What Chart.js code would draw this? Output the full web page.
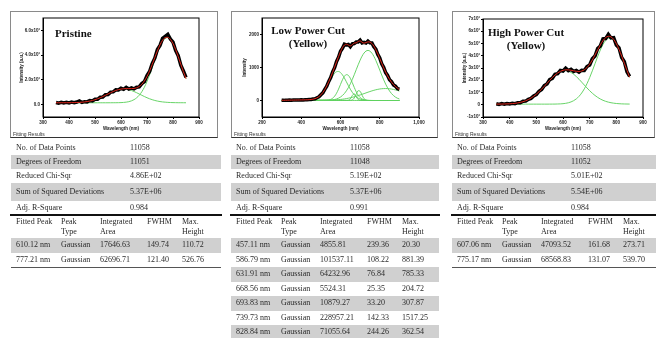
<!DOCTYPE html>
<html>
<head>
<meta charset="utf-8">
<title>PL peak fitting</title>
<script src="https://cdn.jsdelivr.net/npm/chart.js@4.4.1/dist/chart.umd.min.js"></script>
<style>
    body { margin: 0; width: 656px; height: 338px; background: #fff; position: relative; overflow: hidden; }
    .box { position: absolute; }
    .box canvas { position: absolute; left: 0; top: 0; }
    .frame { position: absolute; left: 0; top: 0; right: 0; bottom: 0; border: 1px solid #8a8a8a; border-bottom: 1.5px solid #333; box-sizing: border-box; pointer-events: none; }
    .fit-label { position: absolute; left: 3px; top: 120px; font: 5px 'Liberation Sans', Arial, sans-serif; color: #333; }
    .plot-title { position: absolute; font: bold 11px 'Liberation Serif', 'Times New Roman', serif; color: #111; text-align: center; line-height: 13px; white-space: nowrap; }
    .tbl { position: absolute; font-family: 'Liberation Serif', 'Times New Roman', serif; font-size: 8px; color: #2a2a2a; }
    .row { position: absolute; left: 0; right: 0; }
    .row.gray { background: #d0d0d0; }
    .cell { position: absolute; white-space: pre; }
    .rule { position: absolute; height: 2px; background: #111; }
    .thin { position: absolute; height: 1px; background: #555; }
</style>
</head>
<body>

<div class="box" id="box1" style="left:10px; top:11px; width:208px; height:127px;">
    <canvas id="pristineChart" width="208" height="127"></canvas>
    <div class="plot-title" style="left:45px; top:16px;">Pristine</div>
    <div class="fit-label">Fitting Results</div>
    <div class="frame"></div>
</div>
<div class="box" id="box2" style="left:231px; top:11px; width:207px; height:127px;">
    <canvas id="lowChart" width="207" height="127"></canvas>
    <div class="plot-title" style="left:37px; top:13px; width:80px;">Low Power Cut<br>(Yellow)</div>
    <div class="fit-label">Fitting Results</div>
    <div class="frame"></div>
</div>
<div class="box" id="box3" style="left:452px; top:11px; width:203px; height:127px;">
    <canvas id="highChart" width="203" height="127"></canvas>
    <div class="plot-title" style="left:34px; top:15px; width:80px;">High Power Cut<br>(Yellow)</div>
    <div class="fit-label">Fitting Results</div>
    <div class="frame"></div>
</div>

<div id="tables"></div>

<script>
// ---------- spectrum data ----------

// Pristine: 350-850 nm
const pristineWl = [350, 360, 370, 380, 390, 400, 410, 420, 430, 440, 450, 460, 470, 480, 490, 500, 510, 520, 530, 540,
    550, 560, 570, 580, 590, 600, 610, 620, 630, 640, 650, 660, 670, 680, 690, 700, 710, 720, 730, 740,
    750, 760, 770, 780, 790, 800, 810, 820, 830, 840, 850];
const pristineData = [17, 12, 19, 14, 18, 13, 20, 15, 21, 30, 18, 24, 22, 33, 30, 44, 43, 60, 61, 80,
    82, 101, 103, 119, 118, 132, 124, 140, 126, 135, 127, 140, 143, 170, 186, 234, 268, 332, 375, 445,
    478, 535, 552, 568, 530, 505, 438, 395, 318, 272, 220];
const pristineFit = [15.0, 15.1, 15.1, 15.2, 15.3, 15.5, 15.8, 16.3, 17.0, 18.1, 19.6, 21.8, 24.8, 28.7, 33.6, 39.7, 47.1, 55.6, 65.1, 75.3,
    85.8, 96.3, 106.0, 114.4, 121.0, 125.7, 128.4, 129.4, 129.3, 129.4, 131.0, 136.2, 146.6, 164.5, 191.3, 227.4, 272.5, 324.5, 380.1, 434.7,
    483.1, 520.1, 541.3, 544.1, 527.7, 494.0, 446.1, 388.5, 326.9, 265.9, 209.5];
const pristinePeak1 = [15.0, 15.1, 15.1, 15.2, 15.3, 15.5, 15.8, 16.3, 17.0, 18.1, 19.6, 21.8, 24.8, 28.7, 33.6, 39.7, 47.1, 55.6, 65.1, 75.3,
    85.8, 96.2, 105.8, 114.0, 120.3, 124.3, 125.7, 124.4, 120.4, 114.1, 105.9, 96.4, 86.0, 75.5, 65.3, 55.7, 47.2, 39.9, 33.7, 28.7,
    24.8, 21.9, 19.7, 18.1, 17.0, 16.3, 15.8, 15.5, 15.3, 15.2, 15.1];
const pristinePeak2 = [15.0, 15.0, 15.0, 15.0, 15.0, 15.0, 15.0, 15.0, 15.0, 15.0, 15.0, 15.0, 15.0, 15.0, 15.0, 15.0, 15.0, 15.0, 15.0, 15.0,
    15.0, 15.1, 15.2, 15.4, 15.7, 16.4, 17.7, 20.0, 23.9, 30.3, 40.1, 54.8, 75.6, 104.0, 141.0, 186.7, 240.3, 299.6, 361.4, 421.0,
    473.3, 513.2, 536.6, 541.0, 525.7, 492.7, 445.3, 388.2, 326.7, 265.8, 209.4];

// Low power cut: 300-900 nm
const lowWl = [300, 310, 320, 330, 340, 350, 360, 370, 380, 390, 400, 410, 420, 430, 440, 450, 460, 470, 480, 490,
    500, 510, 520, 530, 540, 550, 560, 570, 580, 590, 600, 610, 620, 630, 640, 650, 660, 670, 680, 690,
    700, 710, 720, 730, 740, 750, 760, 770, 780, 790, 800, 810, 820, 830, 840, 850, 860, 870, 880, 890, 900];
const lowData = [8, 4, 10, 7, 12, 9, 14, 12, 17, 14, 19, 16, 23, 20, 28, 29, 44, 53, 85, 112,
    176, 233, 340, 432, 580, 695, 870, 995, 1185, 1310, 1495, 1580, 1705, 1685, 1700, 1630, 1715, 1725, 1770, 1770,
    1830, 1745, 1760, 1740, 1800, 1750, 1745, 1630, 1555, 1395, 1290, 1110, 1005, 845, 760, 630, 570, 470, 435, 360, 340];
const lowFit = [6.2, 7.1, 8.2, 9.3, 10.5, 11.7, 12.9, 14.1, 15.2, 16.3, 17.6, 18.8, 20.4, 22.4, 25.7, 31.3, 40.6, 55.9, 80.3, 117.2,
    169.9, 240.9, 331.8, 441.8, 568.3, 707.5, 856.0, 1011.0, 1170.0, 1328.6, 1477.1, 1600.3, 1681.0, 1705.7, 1681.4, 1654.5, 1692.0, 1740.3, 1747.6, 1788.5,
    1806.1, 1762.5, 1737.3, 1755.7, 1776.8, 1770.2, 1726.6, 1647.6, 1539.9, 1411.6, 1271.8, 1128.6, 989.3, 859.9, 743.7, 642.3, 556.1, 483.8, 423.7, 373.7, 331.6];
const lowPeak1 = [6.2, 7.1, 8.2, 9.3, 10.5, 11.7, 12.9, 14.1, 15.2, 16.3, 17.3, 18.2, 19.0, 19.6, 20.0, 20.3, 20.3, 20.1, 19.8, 19.3,
    18.6, 17.7, 16.8, 15.7, 14.6, 13.4, 12.2, 11.0, 9.8, 8.6, 7.6, 6.5, 5.6, 4.8, 4.0, 3.4, 2.8, 2.3, 1.8, 1.5,
    1.2, 0.9, 0.7, 0.6, 0.4, 0.3, 0.2, 0.2, 0.1, 0.1, 0.1, 0, 0, 0, 0, 0, 0, 0, 0, 0, 0];
const lowPeak2 = [0, 0, 0, 0, 0, 0, 0, 0, 0, 0, 0.2, 0.5, 1.2, 2.6, 5.4, 10.5, 19.6, 34.9, 59.2, 95.9,
    148.1, 218.2, 306.5, 410.7, 524.8, 639.6, 743.6, 824.5, 871.9, 879.3, 845.8, 776.0, 679.0, 566.6, 451.0, 342.4, 247.9, 171.3, 112.8, 70.9,
    42.5, 24.3, 13.2, 6.9, 3.4, 1.6, 0.7, 0.3, 0, 0, 0, 0, 0, 0, 0, 0, 0, 0, 0, 0, 0];
const lowPeak3 = [0, 0, 0, 0, 0, 0, 0, 0, 0, 0, 0, 0, 0, 0, 0, 0, 0, 0, 0, 0,
    0.2, 0.7, 2.2, 6.0, 14.9, 33.7, 69.3, 129.9, 221.6, 344.4, 486.9, 626.9, 734.8, 784.0, 761.6, 673.4, 542.2, 397.4, 265.1, 161.0,
    89.1, 44.8, 20.5, 8.6, 3.1, 1.1, 0.4, 0, 0, 0, 0, 0, 0, 0, 0, 0, 0, 0, 0, 0, 0];
const lowPeak4 = [0, 0, 0, 0, 0, 0, 0, 0, 0, 0, 0, 0, 0, 0, 0, 0, 0, 0, 0, 0,
    0, 0, 0, 0, 0, 0, 0, 0, 0, 0, 0, 0, 0, 0.3, 6.1, 46.3, 149.3, 202.9, 116.4, 28.2,
    2.9, 0, 0, 0, 0, 0, 0, 0, 0, 0, 0, 0, 0, 0, 0, 0, 0, 0, 0, 0, 0];
const lowPeak5 = [0, 0, 0, 0, 0, 0, 0, 0, 0, 0, 0, 0, 0, 0, 0, 0, 0, 0, 0, 0,
    0, 0, 0, 0, 0, 0, 0, 0, 0, 0, 0, 0, 0, 0, 0.2, 2.4, 17.3, 73.8, 190.3, 296.7,
    279.8, 159.5, 55.0, 11.5, 1.4, 0, 0, 0, 0, 0, 0, 0, 0, 0, 0, 0, 0, 0, 0, 0, 0];
const lowPeak6 = [0, 0, 0, 0, 0, 0, 0, 0, 0, 0, 0, 0, 0, 0, 0, 0, 0, 0, 0, 0.3,
    0.6, 1.1, 2.0, 3.7, 6.5, 11.0, 18.3, 29.5, 46.3, 70.7, 105.0, 151.7, 213.5, 292.2, 389.3, 504.5, 636.0, 780.3, 931.6, 1082.1,
    1222.9, 1344.8, 1438.8, 1497.8, 1517.2, 1495.5, 1434.3, 1338.4, 1215.2, 1073.6, 923.0, 772.0, 628.1, 497.4, 383.3, 287.2, 209.5, 148.7, 102.7, 69.0, 45.1];
const lowPeak7 = [0, 0, 0, 0, 0, 0, 0, 0, 0, 0, 0.1, 0.1, 0.2, 0.2, 0.3, 0.5, 0.7, 0.9, 1.3, 1.7,
    2.4, 3.2, 4.3, 5.7, 7.5, 9.8, 12.6, 16.1, 20.4, 25.6, 31.8, 39.2, 47.8, 57.8, 69.2, 82.1, 96.5, 112.3, 129.6, 148.1,
    167.7, 188.2, 209.1, 230.3, 251.3, 271.7, 290.9, 308.7, 324.6, 338.0, 348.8, 356.6, 361.2, 362.5, 360.4, 355.1, 346.6, 335.1, 321.0, 304.7, 286.5];

// High power cut: 350-850 nm
const highWl = pristineWl;
const highData = [8, 3, 9, 4, 10, 6, 12, 9, 17, 16, 28, 30, 45, 52, 72, 83, 110, 124, 156, 170,
    205, 216, 249, 254, 280, 275, 298, 279, 290, 272, 280, 266, 282, 280, 312, 324, 375, 398, 460, 480,
    538, 540, 575, 545, 548, 488, 465, 385, 352, 268, 232];
const highFit = [5.3, 5.4, 5.7, 6.2, 6.9, 7.9, 9.5, 11.7, 14.9, 19.2, 25.0, 32.6, 42.3, 54.4, 69.0, 86.2, 105.8, 127.5, 150.8, 174.9,
    199.0, 221.7, 242.2, 259.5, 272.5, 281.1, 285.1, 285.0, 281.8, 277.3, 273.1, 271.8, 275.4, 285.8, 304.4, 331.3, 365.9, 406.0, 448.4, 489.0,
    523.5, 547.9, 558.8, 554.2, 533.8, 498.9, 452.2, 397.4, 338.6, 279.8, 224.1];
const highPeak1 = [5.3, 5.4, 5.7, 6.2, 6.9, 7.9, 9.5, 11.7, 14.9, 19.2, 25.0, 32.6, 42.3, 54.4, 69.0, 86.2, 105.8, 127.5, 150.8, 174.9,
    198.8, 221.4, 241.6, 258.3, 270.4, 277.3, 278.5, 273.9, 263.8, 249.0, 230.1, 208.3, 184.8, 160.7, 137.0, 114.5, 94.0, 75.8, 60.1, 47.0,
    36.3, 27.9, 21.4, 16.5, 12.9, 10.3, 8.5, 7.2, 6.4, 5.9, 5.5];
const highPeak2 = [5.0, 5.0, 5.0, 5.0, 5.0, 5.0, 5.0, 5.0, 5.0, 5.0, 5.0, 5.0, 5.0, 5.0, 5.0, 5.0, 5.0, 5.0, 5.0, 5.0,
    5.2, 5.3, 5.6, 6.2, 7.1, 8.8, 11.6, 16.1, 23.0, 33.3, 48.0, 68.5, 95.6, 130.1, 172.4, 221.8, 276.9, 335.2, 393.3, 447.0,
    492.2, 525.0, 542.4, 542.7, 525.9, 493.6, 448.7, 395.2, 337.2, 278.9, 223.6];

// ---------- axis ticks ----------
const wlTicks = [300, 400, 500, 600, 700, 800, 900];
const lowWlTicks = [200, 400, 600, 800, 1000];
const pristineYTicks = [0, 200, 400, 600];
const pristineYLabels = ['0.0', '2.0x10\u00b2', '4.0x10\u00b2', '6.0x10\u00b2'];
const lowYTicks = [0, 1000, 2000];
const lowYLabels = ['0', '1000', '2000'];
const highYTicks = [-100, 0, 100, 200, 300, 400, 500, 600, 700];
const highYLabels = ['-1x10\u00b2', '0', '1x10\u00b2', '2x10\u00b2', '3x10\u00b2', '4x10\u00b2', '5x10\u00b2', '6x10\u00b2', '7x10\u00b2'];

// ---------- fitting result tables ----------
const statLabels = ['No. of Data Points', 'Degrees of Freedom', 'Reduced Chi-Sqr', 'Sum of Squared Deviations', 'Adj. R-Square'];
const pristineStats = ['11058', '11051', '4.86E+02', '5.37E+06', '0.984'];
const lowStats = ['11058', '11048', '5.19E+02', '5.37E+06', '0.991'];
const highStats = ['11058', '11052', '5.01E+02', '5.54E+06', '0.984'];
const peakHeaders = ['Fitted Peak', 'Peak\nType', 'Integrated\nArea', 'FWHM', 'Max.\nHeight'];
const pristinePeaks = [
    ['610.12 nm', 'Gaussian', '17646.63', '149.74', '110.72'],
    ['777.21 nm', 'Gaussian', '62696.71', '121.40', '526.76']
];
const lowPeaks = [
    ['457.11 nm', 'Gaussian', '4855.81', '239.36', '20.30'],
    ['586.79 nm', 'Gaussian', '101537.11', '108.22', '881.39'],
    ['631.91 nm', 'Gaussian', '64232.96', '76.84', '785.33'],
    ['668.56 nm', 'Gaussian', '5524.31', '25.35', '204.72'],
    ['693.83 nm', 'Gaussian', '10879.27', '33.20', '307.87'],
    ['739.73 nm', 'Gaussian', '228957.21', '142.33', '1517.25'],
    ['828.84 nm', 'Gaussian', '71055.64', '244.26', '362.54']
];
const highPeaks = [
    ['607.06 nm', 'Gaussian', '47093.52', '161.68', '273.71'],
    ['775.17 nm', 'Gaussian', '68568.83', '131.07', '539.70']
];

const DATA_COLOR = '#000000';
const FIT_COLOR = '#e3261b';
const PEAK_COLOR = 'rgba(96, 210, 96, 0.95)';
const AXIS_FONT = { family: "'Liberation Sans', Arial, sans-serif", size: 4.5, weight: 'bold' };

// Draws the closed Origin-style frame round the plot area
const framePlugin = {
    id: 'frame',
    afterDraw(chart) {
        const { ctx, chartArea: a } = chart;
        ctx.save();
        ctx.strokeStyle = '#000';
        ctx.lineWidth = 1;
        ctx.strokeRect(a.left, a.top, a.right - a.left, a.bottom - a.top);
        ctx.restore();
    }
};

function toPoints(wl, values) {
    return wl.map((x, i) => ({ x: x, y: values[i] }));
}

/**
 * Create one spectrum chart (data, cumulative fit, gaussian peaks)
 */
function createSpectrumChart(canvasId, wl, data, fit, peaks, axes) {
    const ctx = document.getElementById(canvasId).getContext('2d');

    const datasets = [
        { data: toPoints(wl, fit), borderColor: FIT_COLOR, borderWidth: 1, cubicInterpolationMode: 'monotone' },
        { data: toPoints(wl, data), borderColor: DATA_COLOR, borderWidth: 3.5, tension: 0 }
    ];
    peaks.forEach(p => {
        datasets.push({ data: toPoints(wl, p), borderColor: PEAK_COLOR, borderWidth: 1, cubicInterpolationMode: 'monotone' });
    });
    datasets.forEach(d => { d.pointRadius = 0; d.fill = false; });

    return new Chart(ctx, {
        type: 'line',
        data: { datasets: datasets },
        options: {
            responsive: false,
            animation: false,
            events: [],
            layout: { padding: { top: axes.padTop, right: axes.padRight, left: 0, bottom: 0 } },
            plugins: { legend: { display: false }, tooltip: { enabled: false } },
            scales: {
                x: {
                    type: 'linear',
                    min: axes.xMin,
                    max: axes.xMax,
                    afterBuildTicks: s => { s.ticks = axes.xTicks.map(v => ({ value: v })); },
                    afterFit: s => { s.height = 21; },
                    ticks: { color: '#222', font: AXIS_FONT, padding: 1, maxRotation: 0, autoSkip: false },
                    grid: { drawOnChartArea: false, tickLength: 2, color: '#000' },
                    border: { color: '#000' },
                    title: { display: true, text: 'Wavelength (nm)', color: '#222', font: AXIS_FONT, padding: { top: 0, bottom: 7 } }
                },
                y: {
                    type: 'linear',
                    min: axes.yMin,
                    max: axes.yMax,
                    afterBuildTicks: s => { s.ticks = axes.yTicks.map(v => ({ value: v })); },
                    afterFit: s => { s.width = axes.yWidth; },
                    ticks: {
                        color: '#222', font: AXIS_FONT, padding: 1, autoSkip: false,
                        callback: v => axes.yLabels[axes.yTicks.indexOf(v)]
                    },
                    grid: { drawOnChartArea: false, tickLength: 2, color: '#000' },
                    border: { color: '#000' },
                    title: { display: true, text: axes.yTitle, color: '#222', font: AXIS_FONT, padding: { top: axes.yTitlePad, bottom: 0 } }
                }
            }
        },
        plugins: [framePlugin]
    });
}

/**
 * Build the fitting results table under one panel
 */
function buildTable(left, width, stats, peaks) {
    const tbl = document.createElement('div');
    tbl.className = 'tbl';
    tbl.style.left = left + 'px';
    tbl.style.top = '0px';
    tbl.style.width = width + 'px';
    tbl.style.height = '338px';

    const statRows = [[140, 15], [155, 14], [169, 14], [183, 18], [201, 13]];
    const peakCols = [5, 50, 89, 136, 171];

    const addRow = (top, height, gray, cells) => {
        const row = document.createElement('div');
        row.className = 'row' + (gray ? ' gray' : '');
        row.style.top = top + 'px';
        row.style.height = height + 'px';
        cells.forEach(([x, text]) => {
            const c = document.createElement('div');
            c.className = 'cell';
            c.style.left = x + 'px';
            c.style.top = '0px';
            c.style.lineHeight = height + 'px';
            c.textContent = text;
            row.appendChild(c);
        });
        tbl.appendChild(row);
    };

    statLabels.forEach((label, i) => {
        const [top, h] = statRows[i];
        addRow(top, h, i % 2 === 1, [[5, label], [119, stats[i]]]);
    });

    const rule = document.createElement('div');
    rule.className = 'rule';
    rule.style.left = '-1px';
    rule.style.width = (width + 2) + 'px';
    rule.style.top = '214px';
    tbl.appendChild(rule);

    const header = document.createElement('div');
    header.className = 'row';
    header.style.top = '217px';
    header.style.height = '21px';
    peakHeaders.forEach((text, i) => {
        const c = document.createElement('div');
        c.className = 'cell';
        c.style.left = peakCols[i] + 'px';
        c.style.lineHeight = '10px';
        c.textContent = text;
        header.appendChild(c);
    });
    tbl.appendChild(header);

    peaks.forEach((cells, i) => {
        addRow(238 + i * 14.5, 14.5, i % 2 === 0, cells.map((t, j) => [peakCols[j], t]));
    });

    const bottom = document.createElement('div');
    bottom.className = 'thin';
    bottom.style.left = '0px';
    bottom.style.width = width + 'px';
    bottom.style.top = (238 + peaks.length * 14.5) + 'px';
    tbl.appendChild(bottom);

    document.getElementById('tables').appendChild(tbl);
}

createSpectrumChart('pristineChart', pristineWl, pristineData, pristineFit, [pristinePeak1, pristinePeak2], {
    xMin: 300, xMax: 900, xTicks: wlTicks,
    yMin: -100, yMax: 700, yTicks: pristineYTicks, yLabels: pristineYLabels,
    yTitle: 'Intensity (a.u.)', yWidth: 33, yTitlePad: 9, padTop: 7, padRight: 19
});
createSpectrumChart('lowChart', lowWl, lowData, lowFit,
    [lowPeak1, lowPeak2, lowPeak3, lowPeak4, lowPeak5, lowPeak6, lowPeak7], {
    xMin: 200, xMax: 1000, xTicks: lowWlTicks,
    yMin: -500, yMax: 2500, yTicks: lowYTicks, yLabels: lowYLabels,
    yTitle: 'Intensity', yWidth: 31, yTitlePad: 11, padTop: 7, padRight: 19
});
createSpectrumChart('highChart', highWl, highData, highFit, [highPeak1, highPeak2], {
    xMin: 300, xMax: 900, xTicks: wlTicks,
    yMin: -100, yMax: 700, yTicks: highYTicks, yLabels: highYLabels,
    yTitle: 'Intensity (a.u.)', yWidth: 31, yTitlePad: 10, padTop: 8, padRight: 12
});

buildTable(11, 210, pristineStats, pristinePeaks);
buildTable(231, 208, lowStats, lowPeaks);
buildTable(452, 204, highStats, highPeaks);
</script>
</body>
</html>
